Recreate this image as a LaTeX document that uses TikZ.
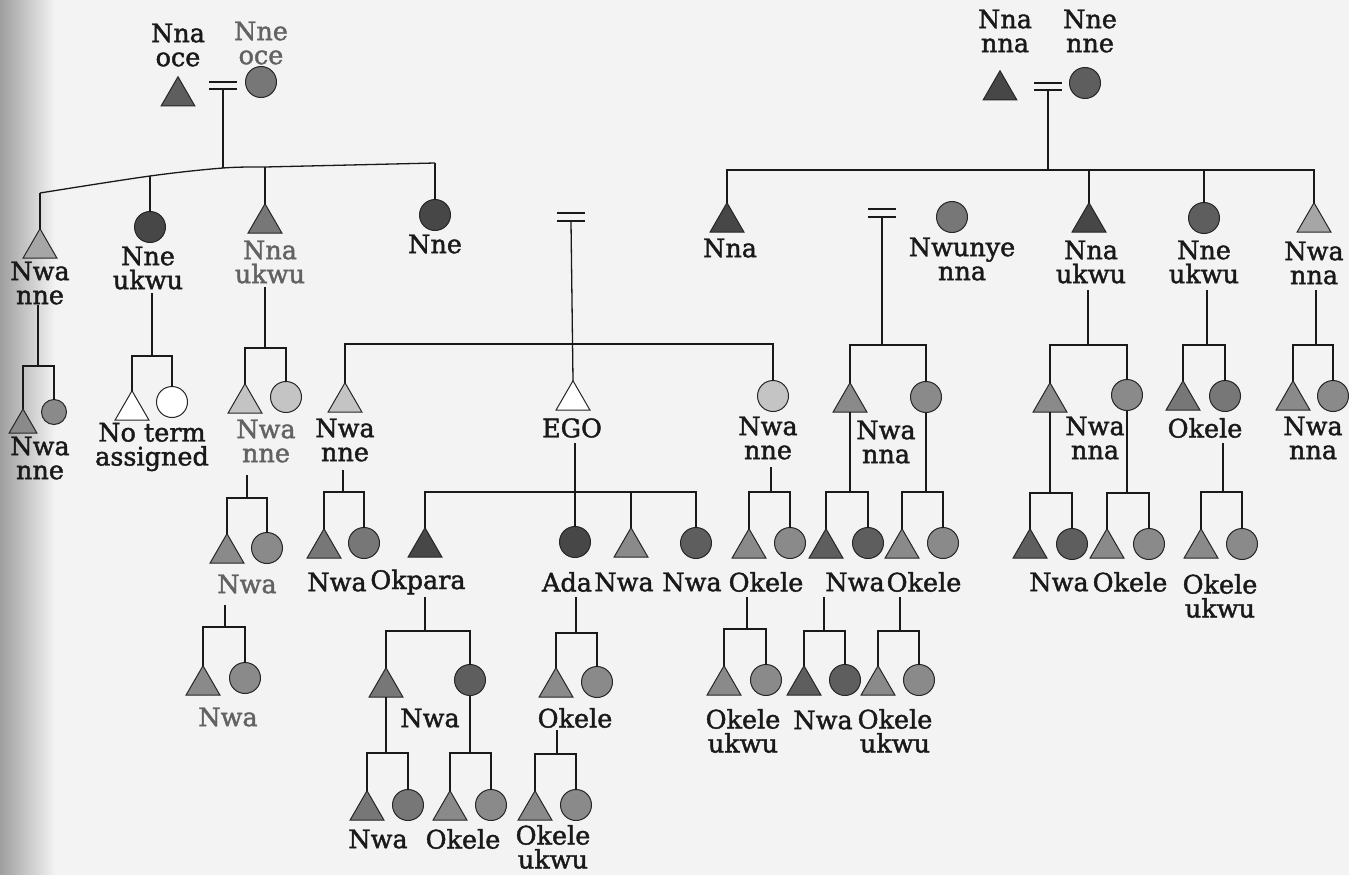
\documentclass[tikz,border=0pt]{standalone}
\usepackage{fontspec}
\setmainfont{DejaVu Serif}
\newfontfamily\kinfont[FakeBold=1.6]{DejaVu Serif}
\usetikzlibrary{shapes.geometric}
\definecolor{pagebg}{HTML}{F3F3F3}
\definecolor{gA}{HTML}{474747}
\definecolor{gB}{HTML}{5E5E5E}
\definecolor{gC}{HTML}{777777}
\definecolor{gD}{HTML}{8A8A8A}
\definecolor{gE}{HTML}{A6A6A6}
\definecolor{gF}{HTML}{C4C4C4}
\definecolor{lblgray}{HTML}{626262}
\tikzset{
  shp/.style={draw=black!85, line width=1pt, inner sep=0pt, outer sep=0pt},
  tri/.style={shp, regular polygon, regular polygon sides=3, minimum size=39pt, anchor=south},
  stri/.style={tri, minimum size=32pt},
  circ/.style={shp, circle, minimum size=31pt},
  scirc/.style={circ, minimum size=25pt},
  lbl/.style={font=\kinfont\fontsize{25.5}{24}\selectfont, align=center, inner sep=0pt, text=black!90},
  glbl/.style={lbl, text=lblgray},
  kin/.style={line width=1.3pt, black!90},
  marr/.style={kin}
}
\begin{document}
\begin{tikzpicture}[x=1pt, y=-1pt]
\useasboundingbox (0,0) rectangle (1349,875);
\fill[pagebg] (0,0) rectangle (1349,875);
\shade[left color=black!38, right color=pagebg] (0,0) rectangle (55,875);

% ---------- mother's side ----------
\node[tri, fill=gB] (nnaoce) at (178,106) {};
\node[circ, fill=gC] (nneoce) at (261,82) {};
\node[lbl] (Lnnaoce) at (178,45) {Nna\\oce};
\node[glbl] (Lnneoce) at (261,43) {Nne\\oce};
\coordinate (mL) at (223,89);
\draw[marr] (209,82) -- (237,82) (209,89) -- (237,89);

\coordinate (bL1) at (40,193);
\coordinate (bL2) at (150,176);
\coordinate (bL3) at (223,168);
\coordinate (bL4) at (265,167);
\coordinate (bL5) at (435,163);
\draw[kin] plot[smooth, tension=0.55] coordinates {(bL1) (bL2) (bL3) (bL4)} -- (bL5);
\draw[kin] (mL) -- (bL3);

\node[tri, fill=gE] (nwanneL) at (40,258) {};
\node[circ, fill=gA] (nneukwuL) at (150,227) {};
\node[tri, fill=gC] (nnaukwuL) at (265,233) {};
\node[circ, fill=gA] (nneL) at (435,215) {};
\draw[kin] (bL1) -- (nwanneL.north);
\draw[kin] (bL2) -- (nneukwuL.north);
\draw[kin] (bL4) -- (nnaukwuL.north);
\draw[kin] (bL5) -- (nneL.north);
\node[lbl] (Lnwanne1) at (40,283) {Nwa\\nne};
\node[lbl] (Lnneukwu1) at (148,268) {Nne\\ukwu};
\node[glbl] (Lnnaukwu1) at (270,262) {Nna\\ukwu};
\node[lbl] (Lnne) at (435,244) {Nne};

% children of Nwa nne
\coordinate (t1) at (38,305); \coordinate (b1) at (38,366);
\node[stri, fill=gD] (c1a) at (23,433) {};
\node[scirc, fill=gD] (c1b) at (54,412) {};
\draw[kin] (t1) -- (b1);
\draw[kin] (c1a.north) |- (b1) -| (c1b.north);
\node[lbl] (Lc1) at (40,458) {Nwa\\nne};

% children of Nne ukwu
\coordinate (t2) at (152,293); \coordinate (b2) at (152,356);
\node[tri, fill=white] (c2a) at (132,420) {};
\node[circ, fill=white] (c2b) at (172,402) {};
\draw[kin] (t2) -- (b2);
\draw[kin] (c2a.north) |- (b2) -| (c2b.north);
\node[lbl] (Lc2) at (152,447) {No term\\assigned};

% children of Nna ukwu
\coordinate (t3) at (265,287); \coordinate (b3) at (265,348);
\node[tri, fill=gF] (c3a) at (245,413) {};
\node[circ, fill=gF] (c3b) at (286,397) {};
\draw[kin] (t3) -- (b3);
\draw[kin] (c3a.north) |- (b3) -| (c3b.north);
\node[glbl] (Lc3) at (266,441) {Nwa\\nne};

\coordinate (t4) at (247,475); \coordinate (b4) at (247,498);
\node[tri, fill=gD] (c4a) at (227,563) {};
\node[circ, fill=gD] (c4b) at (267,548) {};
\draw[kin] (t4) -- (b4);
\draw[kin] (c4a.north) |- (b4) -| (c4b.north);
\node[glbl] (Lc4) at (247,584) {Nwa};

\coordinate (t5) at (225,605); \coordinate (b5) at (225,627);
\node[tri, fill=gD] (c5a) at (203,695) {};
\node[circ, fill=gD] (c5b) at (245,678) {};
\draw[kin] (t5) -- (b5);
\draw[kin] (c5a.north) |- (b5) -| (c5b.north);
\node[glbl] (Lc5) at (228,717) {Nwa};

% ---------- EGO's parents and siblings ----------
\coordinate (mE) at (571,222);
\draw[marr] (557,213) -- (585,213) (557,221) -- (585,221);
\coordinate (bE) at (571,344);
\node[tri, fill=gF] (sibT) at (345,412) {};
\node[tri, fill=white] (ego) at (573,410) {};
\node[circ, fill=gF] (sibC) at (773,396) {};
\draw[kin] (mE) -- (ego.north);
\draw[kin] (sibT.north) |- (bE) -| (sibC.north);
\node[lbl] (Lsib1) at (345,440) {Nwa\\nne};
\node[lbl] (Lego) at (572,428) {EGO};
\node[lbl] (Lsib2) at (768,438) {Nwa\\nne};

\coordinate (t6) at (343,470); \coordinate (b6) at (343,492);
\node[tri, fill=gC] (c6a) at (324,558) {};
\node[circ, fill=gC] (c6b) at (364,543) {};
\draw[kin] (t6) -- (b6);
\draw[kin] (c6a.north) |- (b6) -| (c6b.north);

% EGO's children
\coordinate (t7) at (575,443); \coordinate (b7) at (696,492);
\node[tri, fill=gA] (okpara) at (425,557) {};
\node[circ, fill=gA] (ada) at (575,542) {};
\node[tri, fill=gD] (egoS) at (631,557) {};
\node[circ, fill=gB] (egoD) at (696,543) {};
\draw[kin] (t7) -- (ada.north);
\draw[kin] (okpara.north) |- (b7) -- (egoD.north);
\draw[kin] (egoS.north) -- (egoS.north |- b7);

\coordinate (t8) at (771,467); \coordinate (b8) at (771,492);
\node[tri, fill=gD] (c8a) at (749,558) {};
\node[circ, fill=gD] (c8b) at (790,543) {};
\draw[kin] (t8) -- (b8);
\draw[kin] (c8a.north) |- (b8) -| (c8b.north);

\node[lbl] (Lr1) at (337,582) {Nwa};
\node[lbl] (Lr2) at (418,582) {Okpara};
\node[lbl] (Lr3) at (567,582) {Ada};
\node[lbl] (Lr4) at (624,582) {Nwa};
\node[lbl] (Lr5) at (692,582) {Nwa};
\node[lbl] (Lr6) at (766,582) {Okele};

% grandchildren of EGO
\coordinate (t12) at (425,597); \coordinate (b12) at (425,631);
\node[tri, fill=gC] (oT) at (386,697) {};
\node[circ, fill=gB] (oC) at (470,680) {};
\draw[kin] (t12) -- (b12);
\draw[kin] (oT.north) |- (b12) -| (oC.north);
\node[lbl] (LoN) at (430,718) {Nwa};

\coordinate (b13) at (386,753);
\node[tri, fill=gC] (c13a) at (367,820) {};
\node[circ, fill=gC] (c13b) at (408,805) {};
\draw[kin] (oT.south) -- (b13);
\draw[kin] (c13a.north) |- (b13) -| (c13b.north);

\coordinate (b14) at (470,753);
\node[tri, fill=gD] (c14a) at (450,820) {};
\node[circ, fill=gD] (c14b) at (491,805) {};
\draw[kin] (oC.south) -- (b14);
\draw[kin] (c14a.north) |- (b14) -| (c14b.north);

\coordinate (t15) at (576,597); \coordinate (b15) at (576,633);
\node[tri, fill=gD] (aT) at (556,697) {};
\node[circ, fill=gD] (aC) at (597,682) {};
\draw[kin] (t15) -- (b15);
\draw[kin] (aT.north) |- (b15) -| (aC.north);
\node[lbl] (LaO) at (575,718) {Okele};

\coordinate (t16) at (557,730); \coordinate (b16) at (557,754);
\node[tri, fill=gD] (c16a) at (535,820) {};
\node[circ, fill=gD] (c16b) at (576,805) {};
\draw[kin] (t16) -- (b16);
\draw[kin] (c16a.north) |- (b16) -| (c16b.north);

\node[lbl] (Lg1) at (378,839) {Nwa};
\node[lbl] (Lg2) at (463,839) {Okele};
\node[lbl] (Lg3) at (553,847) {Okele\\ukwu};

% ---------- father's side ----------
\node[tri, fill=gA] (nnanna) at (1000,100) {};
\node[circ, fill=gB] (nnenne) at (1085,83) {};
\node[lbl] (Lnnanna) at (1005,31) {Nna\\nna};
\node[lbl] (Lnnenne) at (1090,31) {Nne\\nne};
\coordinate (mR) at (1048,90);
\draw[marr] (1034,83) -- (1062,83) (1034,90) -- (1062,90);
\coordinate (bR) at (1314,170);
\draw[kin] (mR) -- (mR |- bR);

\node[tri, fill=gA] (nna) at (727,232) {};
\node[circ, fill=gC] (nwunye) at (952,217) {};
\node[tri, fill=gA] (nnaukwuR) at (1089,232) {};
\node[circ, fill=gB] (nneukwuR) at (1204,218) {};
\node[tri, fill=gE] (nwannaR) at (1314,232) {};
\draw[kin] (nna.north) |- (bR) -- (nwannaR.north);
\draw[kin] (nnaukwuR.north) -- (nnaukwuR.north |- bR);
\draw[kin] (nneukwuR.north) -- (nneukwuR.north |- bR);
\node[lbl] (Lnna) at (730,248) {Nna};
\node[lbl] (Lnwunye) at (962,259) {Nwunye\\nna};
\node[lbl] (LnnaukwuR) at (1091,262) {Nna\\ukwu};
\node[lbl] (LnneukwuR) at (1204,262) {Nne\\ukwu};
\node[lbl] (LnwannaR) at (1314,263) {Nwa\\nna};

% father's other marriage
\coordinate (mW) at (882,217);
\draw[marr] (868,209) -- (896,209) (868,217) -- (896,217);
\coordinate (b9) at (882,345);
\node[tri, fill=gD] (hT) at (850,412) {};
\node[circ, fill=gD] (hC) at (926,397) {};
\draw[kin] (mW) -- (b9);
\draw[kin] (hT.north) |- (b9) -| (hC.north);
\node[lbl] (LhN) at (886,442) {Nwa\\nna};

\coordinate (b10) at (850,492);
\node[tri, fill=gB] (c10a) at (826,558) {};
\node[circ, fill=gB] (c10b) at (868,543) {};
\draw[kin] (hT.south) -- (b10);
\draw[kin] (c10a.north) |- (b10) -| (c10b.north);

\coordinate (b11) at (926,492);
\node[tri, fill=gD] (c11a) at (902,558) {};
\node[circ, fill=gD] (c11b) at (943,543) {};
\draw[kin] (hC.south) -- (b11);
\draw[kin] (c11a.north) |- (b11) -| (c11b.north);

\node[lbl] (Lh1) at (855,582) {Nwa};
\node[lbl] (Lh2) at (924,582) {Okele};

\coordinate (t17) at (747,597); \coordinate (b17) at (747,629);
\node[tri, fill=gD] (c17a) at (724,695) {};
\node[circ, fill=gD] (c17b) at (766,680) {};
\draw[kin] (t17) -- (b17);
\draw[kin] (c17a.north) |- (b17) -| (c17b.north);
\node[lbl] (Lc17) at (743,731) {Okele\\ukwu};

\coordinate (t18) at (824,597); \coordinate (b18) at (824,631);
\node[tri, fill=gB] (c18a) at (804,695) {};
\node[circ, fill=gB] (c18b) at (845,680) {};
\draw[kin] (t18) -- (b18);
\draw[kin] (c18a.north) |- (b18) -| (c18b.north);
\node[lbl] (Lc18) at (823,720) {Nwa};

\coordinate (t19) at (900,597); \coordinate (b19) at (900,631);
\node[tri, fill=gD] (c19a) at (878,695) {};
\node[circ, fill=gD] (c19b) at (919,680) {};
\draw[kin] (t19) -- (b19);
\draw[kin] (c19a.north) |- (b19) -| (c19b.north);
\node[lbl] (Lc19) at (895,731) {Okele\\ukwu};

% children of Nna ukwu (father's side)
\coordinate (t20) at (1088,290); \coordinate (b20) at (1088,345);
\node[tri, fill=gD] (rT) at (1050,412) {};
\node[circ, fill=gD] (rC) at (1127,395) {};
\draw[kin] (t20) -- (b20);
\draw[kin] (rT.north) |- (b20) -| (rC.north);
\node[lbl] (LrN) at (1095,438) {Nwa\\nna};

\coordinate (b21) at (1050,493);
\node[tri, fill=gB] (c21a) at (1030,558) {};
\node[circ, fill=gB] (c21b) at (1072,544) {};
\draw[kin] (rT.south) -- (b21);
\draw[kin] (c21a.north) |- (b21) -| (c21b.north);

\coordinate (b22) at (1127,493);
\node[tri, fill=gD] (c22a) at (1107,558) {};
\node[circ, fill=gD] (c22b) at (1149,544) {};
\draw[kin] (rC.south) -- (b22);
\draw[kin] (c22a.north) |- (b22) -| (c22b.north);

\node[lbl] (Lr21) at (1059,582) {Nwa};
\node[lbl] (Lr22) at (1130,582) {Okele};

% children of Nne ukwu (father's side)
\coordinate (t23) at (1207,290); \coordinate (b23) at (1207,345);
\node[tri, fill=gC] (nT) at (1183,410) {};
\node[circ, fill=gC] (nC) at (1225,396) {};
\draw[kin] (t23) -- (b23);
\draw[kin] (nT.north) |- (b23) -| (nC.north);
\node[lbl] (LnO) at (1205,428) {Okele};

\coordinate (t24) at (1223,443); \coordinate (b24) at (1223,492);
\node[tri, fill=gD] (c24a) at (1201,558) {};
\node[circ, fill=gD] (c24b) at (1242,544) {};
\draw[kin] (t24) -- (b24);
\draw[kin] (c24a.north) |- (b24) -| (c24b.north);
\node[lbl] (Lc24) at (1220,596) {Okele\\ukwu};

% children of Nwa nna (father's side)
\coordinate (t25) at (1316,290); \coordinate (b25) at (1316,345);
\node[tri, fill=gD] (wT) at (1293,410) {};
\node[circ, fill=gD] (wC) at (1333,396) {};
\draw[kin] (t25) -- (b25);
\draw[kin] (wT.north) |- (b25) -| (wC.north);
\node[lbl] (LwN) at (1313,438) {Nwa\\nna};
\end{tikzpicture}
\end{document}
